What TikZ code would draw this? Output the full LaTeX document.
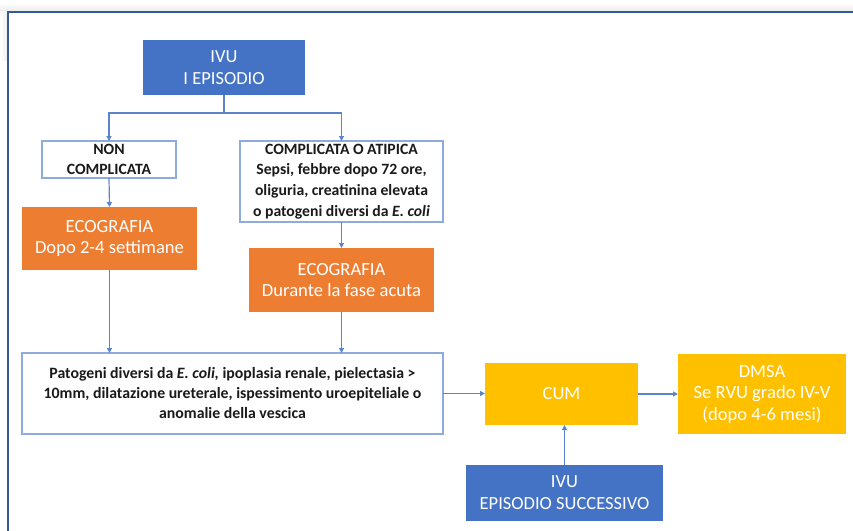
\documentclass[tikz,border=0pt]{standalone}
\usepackage{fontspec}
\setmainfont{Carlito}
\usetikzlibrary{arrows.meta,calc}
\definecolor{ivublue}{HTML}{4472C4}
\definecolor{ecoorange}{HTML}{ED7D31}
\definecolor{cumyellow}{HTML}{FFC000}
\definecolor{linkblue}{HTML}{5B84CF}
\definecolor{boxline}{HTML}{8FAADC}
\definecolor{framebl}{HTML}{2F5C99}
\definecolor{txt}{HTML}{1A1A1A}
\begin{document}
\begin{tikzpicture}[x=1pt,y=-1pt,
  base/.style={align=center, inner sep=0pt, outer sep=0pt},
  bluebox/.style={base, fill=ivublue, text=white, font=\fontsize{18.5}{22}\selectfont},
  orangebox/.style={base, fill=ecoorange, text=white, font=\fontsize{18.6}{21.5}\selectfont},
  yellowbox/.style={base, fill=cumyellow, text=white, font=\fontsize{18.6}{21.5}\selectfont},
  whitebox/.style={base, draw=boxline, line width=1.2pt, fill=white, text=txt, font=\bfseries\fontsize{15.7}{20.7}\selectfont},
  link/.style={draw=linkblue, line width=1.2pt, -{Triangle[length=5pt,width=5pt]}},
  plainlink/.style={draw=linkblue, line width=1.2pt}
]
\useasboundingbox (0,0) rectangle (853,530);
\shade[top color=white, bottom color=gray!15] (0,3) rectangle (853,11);
\shade[left color=white, right color=gray!12] (0,11) rectangle (7,60);
\draw[framebl, line width=2pt] (8,535) -- (8,12) -- (858,12);

\node[bluebox, minimum width=162, minimum height=55] (ivu) at (224,67.5) {IVU\\I EPISODIO};
\node[whitebox, minimum width=134, minimum height=37] (non) at (109,159.5) {NON\\COMPLICATA};
\node[whitebox, minimum width=203, minimum height=81] (compl) at (341.5,181.5) {COMPLICATA O ATIPICA\\Sepsi, febbre dopo 72 ore,\\oliguria, creatinina elevata\\o patogeni diversi da \textit{E. coli}};
\node[orangebox, minimum width=175, minimum height=63] (eco1) at (109.5,238.5) {ECOGRAFIA\\Dopo 2-4 settimane};
\node[orangebox, minimum width=185, minimum height=64] (eco2) at (341.5,280) {ECOGRAFIA\\Durante la fase acuta};
\node[whitebox, minimum width=421, minimum height=81, font=\bfseries\fontsize{15.8}{20}\selectfont] (big) at (232.5,393.5) {Patogeni diversi da \textit{E. coli,} ipoplasia renale, pielectasia >\\10mm, dilatazione ureterale, ispessimento uroepiteliale o\\anomalie della vescica};
\node[yellowbox, minimum width=153, minimum height=62] (cum) at (561.5,394) {CUM};
\node[yellowbox, minimum width=168, minimum height=80] (dmsa) at (762,394) {DMSA\\Se RVU grado IV-V\\(dopo 4-6 mesi)};
\node[bluebox, minimum width=197, minimum height=56] (ivu2) at (564.5,493) {IVU\\EPISODIO SUCCESSIVO};

\coordinate (split) at ($(ivu.south)+(0,18)$);
\draw[plainlink] (ivu.south) -- (split);
\draw[link] (split) -| (non.north);
\draw[link] (split) -| (compl.north);
\draw[link] (non.south) -- (eco1.north);
\draw[link] (compl.south) -- (eco2.north);
\draw[link] (eco1.south) -- (eco1.south |- big.north);
\draw[link] (eco2.south) -- (eco2.south |- big.north);
\draw[link] (big.east) -- (big.east -| cum.west);
\draw[link] (cum.east) -- (dmsa.west);
\draw[link] (ivu2.north) -- (ivu2.north |- cum.south);
\end{tikzpicture}
\end{document}
